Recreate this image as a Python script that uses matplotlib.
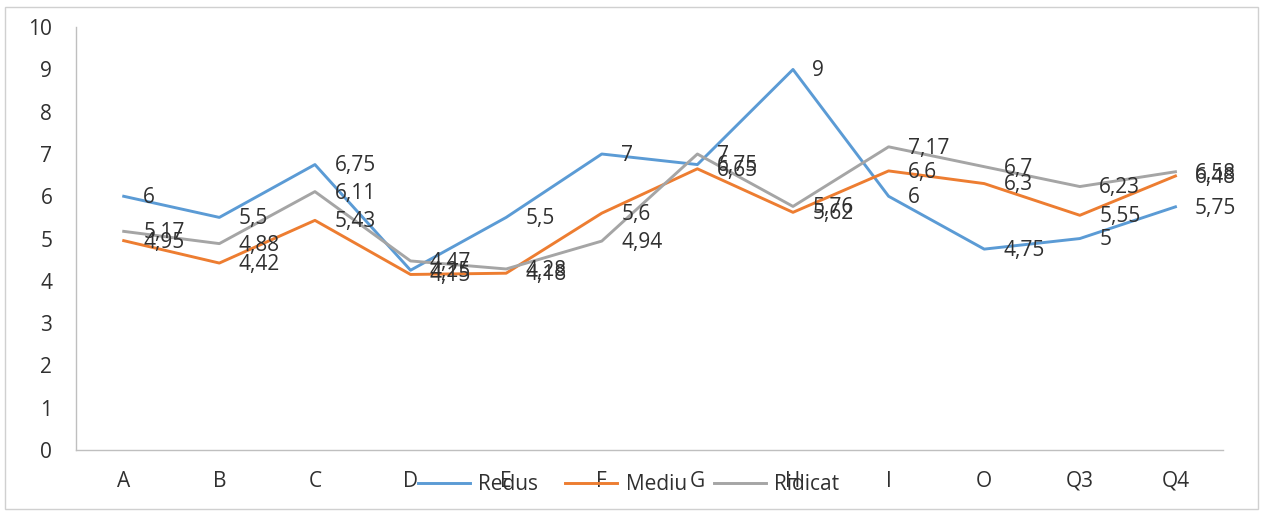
import matplotlib
matplotlib.use("Agg")
import matplotlib.pyplot as plt
from matplotlib.patches import Rectangle

categories = ["A", "B", "C", "D", "E", "F", "G", "H", "I", "O", "Q3", "Q4"]
redus = [6, 5.5, 6.75, 4.25, 5.5, 7, 6.75, 9, 6, 4.75, 5, 5.75]
mediu = [4.95, 4.42, 5.43, 4.15, 4.18, 5.6, 6.65, 5.62, 6.6, 6.3, 5.55, 6.48]
ridicat = [5.17, 4.88, 6.11, 4.47, 4.28, 4.94, 7, 5.76, 7.17, 6.7, 6.23, 6.58]

series = [
    ("Redus", redus, "#5B9BD5"),
    ("Mediu", mediu, "#ED7D31"),
    ("Ridicat", ridicat, "#A5A5A5"),
]

plt.rcParams["font.family"] = ["Open Sans", "DejaVu Sans"]
TXT = "#303030"

fig = plt.figure(figsize=(12.65, 5.13), dpi=100)
ax = fig.add_axes([0.060, 0.123, 0.907, 0.824])

x = list(range(len(categories)))
handles = []
for name, vals, color in series:
    (ln,) = ax.plot(x, vals, color=color, lw=2.1, label=name, solid_joinstyle="round")
    handles.append(ln)

def fmt(v):
    return f"{v:g}".replace(".", ",")

for name, vals, color in series:
    for xi, v in zip(x, vals):
        ax.annotate(fmt(v), (xi, v), xytext=(14, -1), textcoords="offset points",
                    va="center", ha="left", fontsize=15, color=TXT)

ax.set_xlim(-0.5, len(categories) - 0.5)
ax.set_ylim(0, 10)
ax.set_yticks(range(0, 11))
ax.set_xticks(x)
ax.set_xticklabels(categories)
ax.tick_params(axis="both", length=0, labelsize=15, colors=TXT)
ax.tick_params(axis="x", pad=15)
ax.tick_params(axis="y", pad=17)

for side in ["top", "right"]:
    ax.spines[side].set_visible(False)
for side in ["left", "bottom"]:
    ax.spines[side].set_color("#BFBFBF")
    ax.spines[side].set_linewidth(1.0)

fig.legend(handles=handles, loc="center", bbox_to_anchor=(0.497, 1 - 485 / 513),
           ncol=3, frameon=False, fontsize=15, handlelength=2.5,
           handletextpad=0.4, columnspacing=1.3, labelcolor=TXT)

fig.patches.append(Rectangle((5 / 1265, 4 / 513), 1253 / 1265, 502 / 513,
                             transform=fig.transFigure, fill=False,
                             edgecolor="#D0D0D0", lw=1.0))

fig.savefig("out.png", dpi=100)
